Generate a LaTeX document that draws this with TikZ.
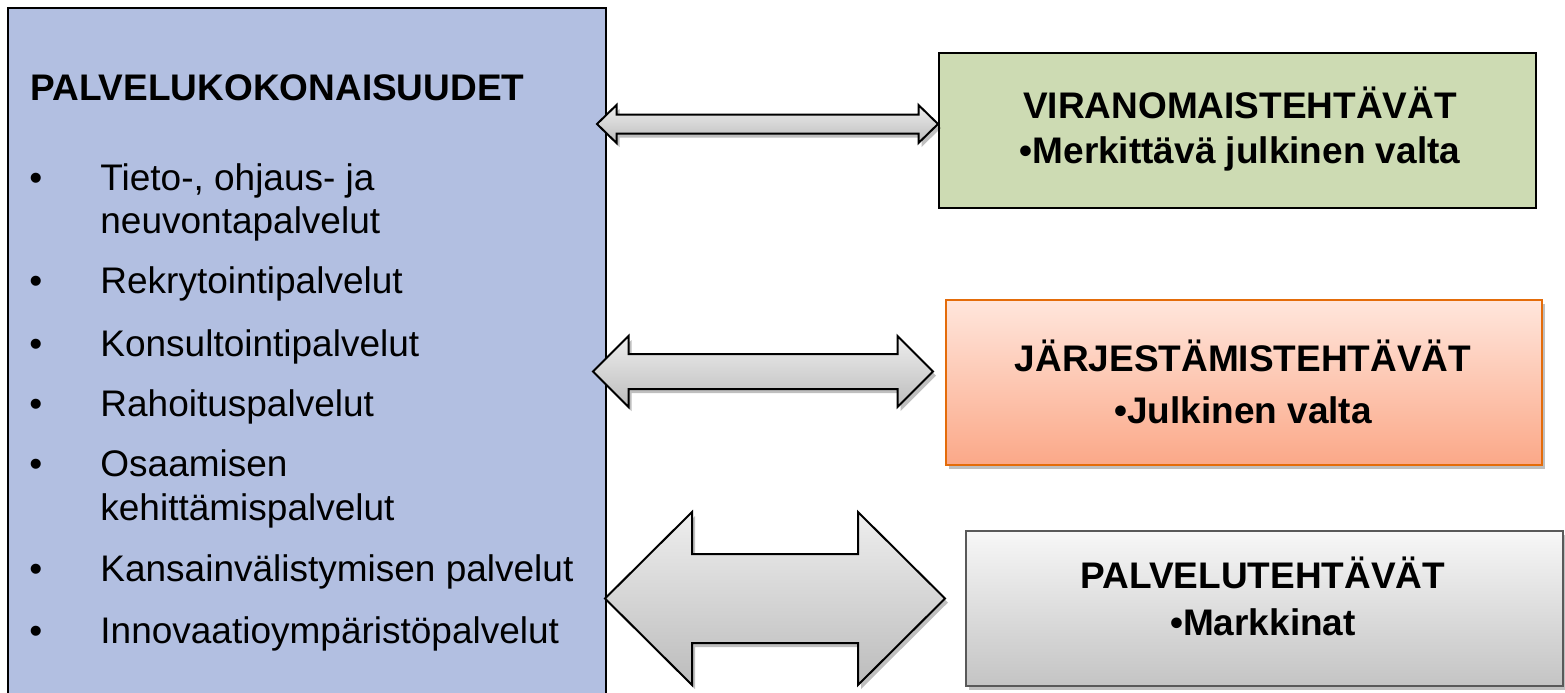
\documentclass[tikz,border=0pt]{standalone}
\usepackage{fontspec}
\setmainfont{Liberation Sans}
\usetikzlibrary{shadows}
\definecolor{leftfill}{RGB}{178,191,225}
\definecolor{greenfill}{RGB}{205,219,179}
\definecolor{orangeedge}{RGB}{228,108,10}
\definecolor{orangetop}{RGB}{255,230,220}
\definecolor{orangebot}{RGB}{251,168,136}
\definecolor{graytop}{RGB}{247,247,247}
\definecolor{graybot}{RGB}{196,196,196}
\definecolor{grayedge}{RGB}{89,89,89}
\definecolor{arrtop}{RGB}{238,238,238}
\definecolor{arrbot}{RGB}{188,188,188}
\newcommand{\dblarr}[7]{% name, xl, xr, cy, shaft half, head half, head len
  \coordinate (#1l) at (#2,#4);
  \coordinate (#1r) at (#3,#4);
  \path[arrowshape] (#1l) -- (#2+#7,#4-#6) -- (#2+#7,#4-#5) -- (#3-#7,#4-#5) -- (#3-#7,#4-#6) -- (#1r)
     -- (#3-#7,#4+#6) -- (#3-#7,#4+#5) -- (#2+#7,#4+#5) -- (#2+#7,#4+#6) -- cycle;}
\begin{document}
\begin{tikzpicture}[x=0.5pt,y=-0.5pt,
  txt/.style={inner sep=0pt, font=\fontsize{18.5}{22}\selectfont, anchor=base west},
  hd/.style={inner sep=0pt, font=\fontsize{18.5}{22}\selectfont\bfseries, anchor=base},
  box/.style={inner sep=0pt, line width=1pt, anchor=north west},
  shad/.style={drop shadow={shadow xshift=1.5pt, shadow yshift=-2pt, opacity=0.25, fill=black}},
  arrowshape/.style={draw=black, line width=1pt, line join=miter, top color=arrtop, bottom color=arrbot, shad}
]
\useasboundingbox (0,0) rectangle (1565,692);
\clip (0,0) rectangle (1565,692);
\fill[white] (0,0) rectangle (1565,692);

% left box
\node[box, draw=black, fill=leftfill, minimum width=299pt, minimum height=360pt] (L) at (7,7) {};
\node[txt, font=\fontsize{18.5}{22}\selectfont\bfseries] (Lt) at (30,100) {PALVELUKOKONAISUUDET};
\foreach \yy/\nm in {190/b1,293/b2,356/b3,416/b4,476/b5,581/b6,643/b7}
  \node[txt] (\nm) at (29,\yy) {•};
\node[txt] (i1a) at (100,190) {Tieto-, ohjaus- ja};
\node[txt] (i1b) at (100,233) {neuvontapalvelut};
\node[txt] (i2) at (100,293) {Rekrytointipalvelut};
\node[txt] (i3) at (100,356) {Konsultointipalvelut};
\node[txt] (i4) at (100,416) {Rahoituspalvelut};
\node[txt] (i5a) at (100,476) {Osaamisen};
\node[txt] (i5b) at (100,520) {kehittämispalvelut};
\node[txt] (i6) at (100,581) {Kansainvälistymisen palvelut};
\node[txt] (i7) at (100,643) {Innovaatioympäristöpalvelut};

% right boxes
\node[box, draw=black, fill=greenfill, minimum width=298.5pt, minimum height=77.5pt] (G) at (938,52) {};
\node[hd] (Gt) at (1240,118) {VIRANOMAISTEHTÄVÄT};
\node[hd] (Gs) at (1240,163) {•Merkittävä julkinen valta};

\node[box, draw=orangeedge, top color=orangetop, bottom color=orangebot, shad, minimum width=298pt, minimum height=82.5pt] (O) at (945,299) {};
\node[hd] (Ot) at (1243,371) {JÄRJESTÄMISTEHTÄVÄT};
\node[hd] (Os) at (1243,423) {•Julkinen valta};

\node[box, draw=grayedge, top color=graytop, bottom color=graybot, shad, minimum width=298.5pt, minimum height=77.5pt] (P) at (965,530) {};
\node[hd] (Pt) at (1263,588) {PALVELUTEHTÄVÄT};
\node[hd] (Ps) at (1263,635) {•Markkinat};

% double arrows
\dblarr{a1}{597}{938}{124}{9.5}{19}{19.5}
\dblarr{a2}{593}{933}{371.5}{17.5}{35.5}{35.5}
\dblarr{a3}{605}{945}{598.5}{44.5}{86.5}{87}
\end{tikzpicture}
\end{document}
